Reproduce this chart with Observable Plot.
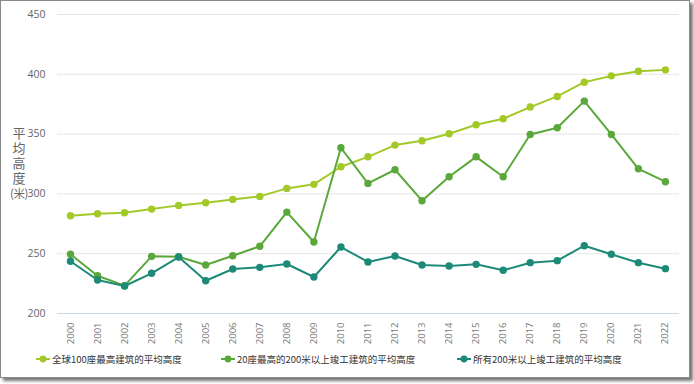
<!DOCTYPE html>
<html><head><meta charset="utf-8">
<script src="https://cdn.jsdelivr.net/npm/d3@7"></script>
<script src="https://cdn.jsdelivr.net/npm/@observablehq/plot@0.6"></script>
<style>
body{margin:0;background:#fff;font-family:"Open Sans","Noto Sans CJK SC",sans-serif;}
#wrap{position:relative;width:694px;height:384px;overflow:hidden;}
#frame{position:absolute;left:0;top:0;width:688px;height:376px;border:1px solid #8a8a8a;box-shadow:3px 3px 3px #777;background:#fff;}
#chart{position:absolute;left:0;top:0;}
#ylab{position:absolute;left:8px;top:124.5px;width:22px;text-align:center;font-size:13px;color:#666;font-family:"Noto Sans CJK SC",sans-serif;}
#ylab div{height:15.3px;line-height:15.3px;white-space:nowrap;}
.leg{position:absolute;top:352px;height:14px;font-size:9.5px;color:#333;font-family:"Noto Sans CJK SC",sans-serif;white-space:nowrap;display:flex;align-items:center;}
.leg svg{margin-right:2px;}
</style></head>
<body><div id="wrap"><div id="frame"></div><div id="chart"></div>
<div id="ylab"><div>平</div><div>均</div><div>高</div><div>度</div><div style="font-size:11.5px;letter-spacing:-0.5px">(米)</div></div>
<div id="legend"></div>
</div>
<script>
const years = d3.range(2000, 2023);
const seriesNames = ["全球100座最高建筑的平均高度", "20座最高的200米以上竣工建筑的平均高度", "所有200米以上竣工建筑的平均高度"];
const seriesColors = ["#a3c928", "#5aa83a", "#1d8a78"];
const top100 = [281.7,283.4,284.2,287.3,290.4,292.6,295.4,297.9,304.6,308,322.7,331,340.8,344.4,350.3,357.8,362.8,372.6,381.5,393.4,398.7,402.6,403.7];
const top20 = [249.5,231.6,223.3,247.8,247.5,240.6,248.3,256.2,284.8,259.8,338.6,308.8,320.2,294.3,314.3,331,314.3,349.7,355.3,377.6,349.7,321,310.2];
const all200 = [243.7,228,223,233.6,247.2,227.4,237.2,238.6,241.4,230.5,255.6,243.1,248.1,240.6,239.7,241.1,236.1,242.5,244.2,256.7,249.5,242.5,237.5];
const yTicks = [200,250,300,350,400,450];

const allSeries = [top100, top20, all200];
const data = [];
allSeries.forEach((vals, si) => vals.forEach((v, i) => data.push({year: years[i], value: v, series: seriesNames[si]})));

const chart = Plot.plot({
  width: 694, height: 350,
  marginLeft: 57, marginRight: 15, marginTop: 14, marginBottom: 37,
  style: {fontFamily: "'Open Sans', sans-serif", fontSize: "10.5px", color: "#666", background: "transparent", overflow: "visible"},
  x: {domain: [1999.52, 2022.52], ticks: years, tickFormat: d => String(d), tickRotate: -90, tickSize: 0, tickPadding: 9, label: null},
  y: {domain: [200, 450], ticks: yTicks, tickSize: 0, tickPadding: 12, label: null},
  color: {domain: seriesNames, range: seriesColors},
  marks: [
    Plot.gridY(yTicks.filter(t => t > 200), {stroke: "#e6e6e6", strokeOpacity: 1}),
    Plot.ruleY([200], {stroke: "#ccd6eb"}),
    Plot.line(data, {x: "year", y: "value", z: "series", stroke: "series", strokeWidth: 2}),
    Plot.dot(data, {x: "year", y: "value", fill: "series", r: 3.7})
  ]
});
chart.querySelectorAll('[aria-label="x-axis tick label"] text').forEach(t => t.style.fontSize = "9.5px");
chart.querySelectorAll('[aria-label="x-axis tick label"]').forEach(g => g.setAttribute("fill", "#777"));
document.getElementById("chart").appendChild(chart);

const legendLeft = [36, 221, 457];
const legend = document.getElementById("legend");
seriesNames.forEach((name, i) => {
  const d = document.createElement("div");
  d.className = "leg";
  d.style.left = legendLeft[i] + "px";
  d.innerHTML = `<svg width="14" height="10"><line x1="0" x2="14" y1="5" y2="5" stroke="${seriesColors[i]}" stroke-width="2"/><circle cx="7" cy="5" r="3.4" fill="${seriesColors[i]}"/></svg>${name}`;
  legend.appendChild(d);
});
</script></body></html>
